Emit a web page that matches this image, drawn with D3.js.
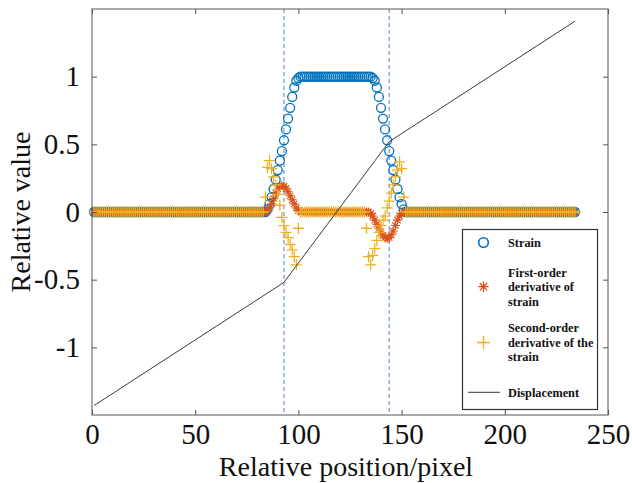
<!DOCTYPE html>
<html><head><meta charset="utf-8">
<script src="https://cdn.jsdelivr.net/npm/d3@7"></script>
<style>body{margin:0;background:#fff} text{font-family:'Liberation Serif','Times New Roman',serif}</style>
</head><body>
<svg id="chart" width="632" height="483"></svg>
<script>
// ---------- data ----------
const positions = d3.range(1, 235);            // pixel positions 1..234
// strain: 0 before the rise, 1 on the plateau, 0 after the fall
const strainRiseX0 = 84;
const strainRise = [0.00,0.02,0.06,0.11,0.17,0.24,0.31,0.38,0.45,0.53,0.61,0.69,0.77,0.85,0.92,0.97,0.99,1.00]; // x = 84..101
const strainFallX0 = 135;
const strainFall = [1.00,0.99,0.97,0.92,0.85,0.77,0.69,0.61,0.53,0.45,0.38,0.31,0.24,0.17,0.11,0.06,0.02,0.00]; // x = 135..152
// first-order derivative: 0 except two bumps
const d1PosX0 = 84;
const d1Pos = [0.00,0.01,0.03,0.06,0.10,0.14,0.17,0.19,0.195,0.19,0.175,0.15,0.12,0.09,0.06,0.03,0.01,0.00]; // x = 84..101
const d1NegX0 = 134;
const d1Neg = [0.00,-0.01,-0.03,-0.06,-0.09,-0.12,-0.15,-0.175,-0.19,-0.195,-0.19,-0.17,-0.14,-0.10,-0.06,-0.03,-0.01,0.00]; // x = 134..151
// second-order derivative: 0 except around the edges
const d2LeftX0 = 83;
const d2Left = [0.00,0.11,0.33,0.38,0.32,0.26,0.20,0.13,0.05,-0.04,-0.10,-0.15,-0.19,-0.24,-0.28,-0.33,-0.39,-0.12,0.00]; // x = 83..101
const d2RightX0 = 132;
const d2Right = [0.00,-0.12,-0.33,-0.39,-0.32,-0.27,-0.21,-0.15,-0.10,-0.06,-0.03,0.03,0.08,0.14,0.20,0.26,0.31,0.37,0.32,0.11,0.00]; // x = 132..152
// displacement (piecewise linear)
const dispX = [1, 93, 144, 234];
const dispY = [-1.43, -0.52, 0.52, 1.41];
// dashed vertical markers
const markerX = [93, 144];
// ticks
const xTicks = [0, 50, 100, 150, 200, 250];
const yTicks = [-1, -0.5, 0, 0.5, 1];
const yTickLabels = ["-1", "-0.5", "0", "0.5", "1"];
// legend
const legendItems = [
  {type: "circle", lines: ["Strain"]},
  {type: "star", lines: ["First-order", "derivative of", "strain"]},
  {type: "plus", lines: ["Second-order", "derivative of the", "strain"]},
  {type: "line", lines: ["Displacement"]}
];

// ---------- build series ----------
function seg(x, x0, arr, before, after) {
  if (x < x0) return before;
  if (x >= x0 + arr.length) return after;
  return arr[x - x0];
}
const strain = positions.map(x => x < strainFallX0 ? seg(x, strainRiseX0, strainRise, 0, 1) : seg(x, strainFallX0, strainFall, 1, 0));
const d1 = positions.map(x => x < 120 ? seg(x, d1PosX0, d1Pos, 0, 0) : seg(x, d1NegX0, d1Neg, 0, 0));
const d2 = positions.map(x => x < 120 ? seg(x, d2LeftX0, d2Left, 0, 0) : seg(x, d2RightX0, d2Right, 0, 0));

// ---------- chart ----------
const L = 92, R = 608, T = 9, B = 415;
const svg = d3.select("#chart");
const x = d3.scaleLinear().domain([0, 250]).range([L, R]);
const y = d3.scaleLinear().domain([-1.5, 1.5]).range([B, T]);
const serif = "'Liberation Serif','Times New Roman',serif";

const C_STRAIN = "#0072BD", C_D1 = "#D95319", C_D2 = "#EDB120", C_DISP = "#3a3a3a";

// dashed lines
svg.append("g").selectAll("line").data(markerX).join("line")
  .attr("x1", d => x(d)).attr("x2", d => x(d)).attr("y1", T).attr("y2", B)
  .attr("stroke", "#5a8fd2").attr("stroke-width", 1.1).attr("stroke-dasharray", "4,3");

const circlePath = (r) => `M${-r},0a${r},${r} 0 1,0 ${2*r},0a${r},${r} 0 1,0 ${-2*r},0`;
const starPath = (s) => { const d = s*0.7071; return `M${-s},0H${s}M0,${-s}V${s}M${-d},${-d}L${d},${d}M${-d},${d}L${d},${-d}`; };
const plusPath = (s) => `M${-s},0H${s}M0,${-s}V${s}`;

// strain circles
svg.append("g").selectAll("path").data(positions).join("path")
  .attr("transform", (d, i) => `translate(${x(d)},${y(strain[i])})`)
  .attr("d", circlePath(4.5)).attr("fill", "none").attr("stroke", C_STRAIN).attr("stroke-width", 1.3);
// first derivative asterisks
svg.append("g").selectAll("path").data(positions).join("path")
  .attr("transform", (d, i) => `translate(${x(d)},${y(d1[i])})`)
  .attr("d", starPath(4.5)).attr("fill", "none").attr("stroke", C_D1).attr("stroke-width", 1.1);
// second derivative pluses
svg.append("g").selectAll("path").data(positions).join("path")
  .attr("transform", (d, i) => `translate(${x(d)},${y(d2[i])})`)
  .attr("d", plusPath(5.5)).attr("fill", "none").attr("stroke", C_D2).attr("stroke-width", 1.3);
// displacement
svg.append("path").datum(dispX.map((d, i) => [d, dispY[i]]))
  .attr("d", d3.line().x(d => x(d[0])).y(d => y(d[1])))
  .attr("fill", "none").attr("stroke", C_DISP).attr("stroke-width", 1);

// axes
function styleAxis(g, showText) {
  g.select(".domain").remove();
  g.selectAll(".tick line").attr("stroke", "#555");
  g.selectAll(".tick text").attr("fill", "#111").attr("font-family", serif).attr("font-size", 29);
  if (!showText) g.selectAll(".tick text").remove();
}
svg.append("g").attr("transform", `translate(0,${B})`)
  .call(d3.axisBottom(x).tickValues(xTicks).tickSize(-5).tickPadding(8).tickFormat(d3.format("d")))
  .call(g => styleAxis(g, true));
svg.append("g").attr("transform", `translate(0,${T})`)
  .call(d3.axisTop(x).tickValues(xTicks).tickSize(-5)).call(g => styleAxis(g, false));
svg.append("g").attr("transform", `translate(${L},0)`)
  .call(d3.axisLeft(y).tickValues(yTicks).tickSize(-5).tickPadding(12).tickFormat((d, i) => yTickLabels[i]))
  .call(g => styleAxis(g, true));
svg.append("g").attr("transform", `translate(${R},0)`)
  .call(d3.axisRight(y).tickValues(yTicks).tickSize(-5)).call(g => styleAxis(g, false));

// frame
svg.append("rect").attr("x", L).attr("y", T).attr("width", R - L).attr("height", B - T)
  .attr("fill", "none").attr("stroke", "#555").attr("stroke-width", 1);

// axis labels
svg.append("text").attr("x", (L + R) / 2 - 4).attr("y", 476).attr("text-anchor", "middle")
  .attr("font-family", serif).attr("font-size", 28).attr("fill", "#111").text("Relative position/pixel");
svg.append("text").attr("transform", `translate(30,${(T + B) / 2}) rotate(-90)`).attr("text-anchor", "middle")
  .attr("font-family", serif).attr("font-size", 28).attr("fill", "#111").text("Relative value");

// legend
const lg = svg.append("g");
lg.append("rect").attr("x", 462.5).attr("y", 229.5).attr("width", 135).attr("height", 180)
  .attr("fill", "#fff").attr("stroke", "#333").attr("stroke-width", 1.2);
const entryY = [242.5, 286.7, 346.5, 392.3];
const lineH = 14.5;
legendItems.forEach((it, i) => {
  const cy = entryY[i];
  const mx = 483.5;
  if (it.type === "circle") lg.append("path").attr("transform", `translate(${mx},${cy})`).attr("d", circlePath(4.8)).attr("fill", "none").attr("stroke", C_STRAIN).attr("stroke-width", 1.6);
  if (it.type === "star") lg.append("path").attr("transform", `translate(${mx},${cy})`).attr("d", starPath(5.2)).attr("fill", "none").attr("stroke", C_D1).attr("stroke-width", 1.3);
  if (it.type === "plus") lg.append("path").attr("transform", `translate(${mx},${cy - 4})`).attr("d", plusPath(6.5)).attr("fill", "none").attr("stroke", C_D2).attr("stroke-width", 1.4);
  if (it.type === "line") lg.append("line").attr("x1", 468).attr("x2", 500).attr("y1", cy).attr("y2", cy).attr("stroke", C_DISP).attr("stroke-width", 1);
  const n = it.lines.length;
  const t = lg.append("text").attr("font-family", serif).attr("font-size", 12.3).attr("font-weight", "bold").attr("fill", "#111");
  it.lines.forEach((s, j) => {
    t.append("tspan").attr("x", 508).attr("y", cy + (j - (n - 1) / 2) * lineH + (it.type === "plus" ? -4 : 0)).attr("dy", "0.35em")
      .attr("font-family", serif).text(s);
  });
});
</script>
</body></html>
